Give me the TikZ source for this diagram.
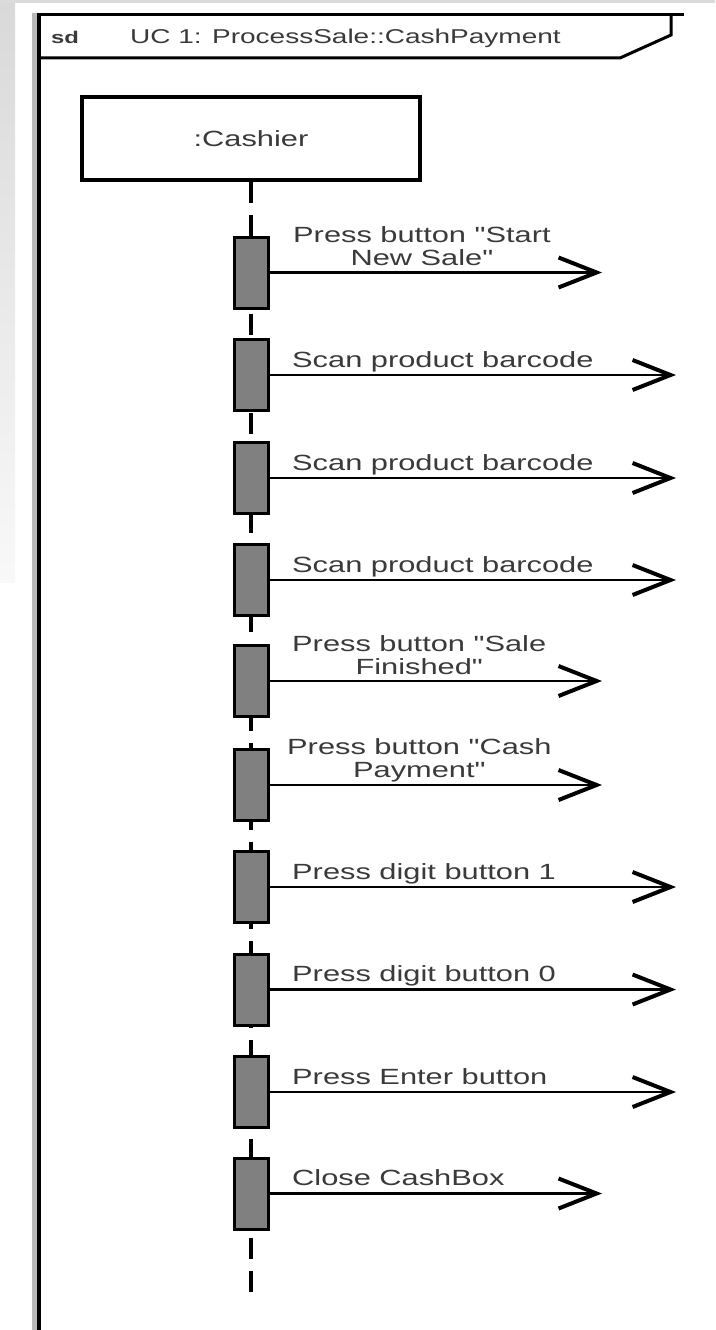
\documentclass[tikz,border=0pt]{standalone}
\usepackage{fontspec}
\setmainfont[FakeStretch=1.4, Ligatures=TeXOff]{Liberation Sans}
\usetikzlibrary{arrows.meta}
\definecolor{ink}{HTML}{3A3A3A}
\definecolor{actfill}{HTML}{808080}
\begin{document}
\begin{tikzpicture}[x=1pt,y=-1pt,
  actor/.style={draw, line width=3.5pt, fill=white, minimum width=338pt, minimum height=83pt,
    inner sep=0pt, text=ink, font=\fontsize{22}{23}\selectfont},
  lifeline/.style={line width=4pt, dash pattern=on 21pt off 12pt},
  act/.style={draw, line width=3pt, fill=actfill, minimum width=34pt, minimum height=71pt, inner sep=0pt},
  msg/.style={line width=2.5pt, -{Straight Barb[length=38pt,width=30pt,line width'=4pt]}},
  lbl/.style={inner sep=0pt, text=ink, font=\fontsize{22}{23}\selectfont, anchor=base west},
  lbltwo/.style={lbl, align=center}]
\useasboundingbox (0,0) rectangle (715,1330);
\fill[white] (0,0) rectangle (715,1330);
% window background
\shade[top color=gray!30, bottom color=gray!5] (0,0) rectangle (15,582);
\fill[gray!28] (0,0) rectangle (715,3);

% sequence diagram frame
\draw[line width=5pt, gray!55] (34.5,13) -- (34.5,1330);
\draw[line width=4pt] (39,13) -- (39,1330);
\draw[line width=3pt] (37,15) -- (684,15);
\draw[line width=3pt, line join=miter] (671,15) -- (671,35) -- (620,58) -- (37,58);
\node[inner sep=0pt, anchor=base west, text=ink, font=\bfseries\fontsize{17}{19}\selectfont] (sd) at (51,44) {sd};
\node[inner sep=0pt, anchor=base west, text=ink, font=\fontsize{20}{22}\selectfont] (title) at (130,44) {UC 1: ProcessSale::CashPayment};

% lifeline of the cashier
\node[actor] (cashier) at (251,138.5) {:Cashier};
\coordinate (lifeend) at (251,1302);
\draw[lifeline] (cashier.south) -- (lifeend);

% activations
\node[act] (a1) at (251,272.5) {};
\node[act] (a2) at (251,375) {};
\node[act] (a3) at (251,478) {};
\node[act] (a4) at (251,580) {};
\node[act] (a5) at (251,681) {};
\node[act] (a6) at (251,785) {};
\node[act] (a7) at (251,887) {};
\node[act] (a8) at (251,989.5) {};
\node[act] (a9) at (251,1092) {};
\node[act] (a10) at (251,1193.5) {};

% message ends
\coordinate (e1) at (602,272.5);
\coordinate (e2) at (676,375);
\coordinate (e3) at (676,478);
\coordinate (e4) at (676,580);
\coordinate (e5) at (602,681);
\coordinate (e6) at (602,785);
\coordinate (e7) at (676,887);
\coordinate (e8) at (676,989.5);
\coordinate (e9) at (676,1092);
\coordinate (e10) at (602,1193.5);

\foreach \i in {1,...,10} \draw[msg] (a\i.east) -- (e\i);

% message labels (two-line labels sit on their last baseline)
\node[lbltwo] (m1) at (293,265) {Press button "Start\\New Sale"};
\node[lbl] (m2) at (292,367) {Scan product barcode};
\node[lbl] (m3) at (292,470) {Scan product barcode};
\node[lbl] (m4) at (292,572) {Scan product barcode};
\node[lbltwo] (m5) at (292,674) {Press button "Sale\\Finished"};
\node[lbltwo] (m6) at (287,777) {Press button "Cash\\Payment"};
\node[lbl] (m7) at (292,879) {Press digit button 1};
\node[lbl] (m8) at (292,981) {Press digit button 0};
\node[lbl] (m9) at (292,1084) {Press Enter button};
\node[lbl] (m10) at (292,1185) {Close CashBox};
\end{tikzpicture}
\end{document}
